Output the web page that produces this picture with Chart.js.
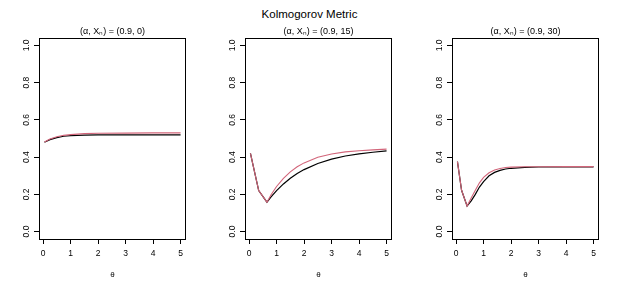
<!DOCTYPE html>
<html>
<head>
<meta charset="utf-8">
<script src="https://cdn.jsdelivr.net/npm/chart.js@4/dist/chart.umd.min.js"></script>
<style>
  body { margin: 0; background: #fff; width: 619px; height: 288px; position: relative; overflow: hidden; font-family: "Liberation Sans", Arial, sans-serif; }
  .main-title { position: absolute; top: 8px; left: 0; width: 619px; text-align: center; font-size: 11.5px; color: #000; }
  canvas { position: absolute; top: 0; }
</style>
</head>
<body>
<div class="main-title">Kolmogorov Metric</div>
<canvas id="panel0" width="206" height="288" style="left:0px"></canvas>
<canvas id="panel1" width="206" height="288" style="left:206px"></canvas>
<canvas id="panel2" width="206" height="288" style="left:413px"></canvas>
<script>
const panelTitles = ['(α, Xₙ) = (0.9, 0)', '(α, Xₙ) = (0.9, 15)', '(α, Xₙ) = (0.9, 30)'];
const xTicks = [0, 1, 2, 3, 4, 5];
const yTicks = [0, 0.2, 0.4, 0.6, 0.8, 1.0];

// X_n = 0
const theta0 = [0.05, 0.25, 0.5, 0.75, 1, 1.5, 2, 3, 4, 5];
const black0 = [0.480, 0.494, 0.505, 0.512, 0.515, 0.518, 0.519, 0.520, 0.520, 0.520];
const red0 = [0.481, 0.497, 0.509, 0.517, 0.521, 0.526, 0.528, 0.529, 0.530, 0.530];

// X_n = 15
const theta15 = [0.05, 0.35, 0.65, 0.8, 1.0, 1.25, 1.5, 1.75, 2, 2.5, 3, 3.5, 4, 4.5, 5];
const black15 = [0.420, 0.220, 0.158, 0.186, 0.220, 0.256, 0.286, 0.312, 0.333, 0.366, 0.389, 0.406, 0.417, 0.426, 0.434];
const red15 = [0.420, 0.220, 0.158, 0.198, 0.242, 0.286, 0.321, 0.348, 0.369, 0.399, 0.417, 0.428, 0.434, 0.439, 0.443];

// X_n = 30
const theta30 = [0.05, 0.2, 0.4, 0.55, 0.7, 0.85, 1.0, 1.2, 1.4, 1.6, 1.8, 2.0, 2.5, 3, 4, 5];
const black30 = [0.376, 0.222, 0.137, 0.165, 0.200, 0.239, 0.268, 0.300, 0.318, 0.329, 0.336, 0.340, 0.345, 0.347, 0.348, 0.348];
const red30 = [0.376, 0.222, 0.137, 0.180, 0.222, 0.262, 0.291, 0.316, 0.331, 0.339, 0.344, 0.346, 0.348, 0.348, 0.349, 0.349];

const family = '"Liberation Sans", Arial, sans-serif';

// R-style box around the plot region
const boxPlugin = {
  id: 'box',
  afterDraw(chart) {
    const { ctx, chartArea: a } = chart;
    ctx.save();
    ctx.strokeStyle = '#000';
    ctx.lineWidth = 1;
    ctx.strokeRect(Math.round(a.left) + 0.5, Math.round(a.top) + 0.5, Math.round(a.width) - 1, Math.round(a.height));
    ctx.restore();
  }
};

function toPoints(xs, ys) {
  return xs.map((x, i) => ({ x, y: ys[i] }));
}

function makePanel(id, title, theta, blackVals, redVals) {
  const ctx = document.getElementById(id);
  return new Chart(ctx, {
    type: 'line',
    data: {
      datasets: [
        { data: toPoints(theta, redVals), borderColor: '#d2657a', borderWidth: 1.1, pointRadius: 0, tension: 0 },
        { data: toPoints(theta, blackVals), borderColor: '#000', borderWidth: 1.2, pointRadius: 0, tension: 0 }
      ]
    },
    options: {
      responsive: false,
      animation: false,
      layout: { padding: { top: 26.2, right: 20, bottom: 0, left: 0 } },
      plugins: {
        legend: { display: false },
        tooltip: { enabled: false },
        title: {
          display: true,
          text: title,
          fullSize: false,
          color: '#000',
          font: { size: 9, family, weight: 'normal' },
          padding: { top: 0, bottom: 1 }
        }
      },
      scales: {
        x: {
          type: 'linear',
          min: -0.148,
          max: 5.198,
          afterBuildTicks: (s) => { s.ticks = xTicks.map(v => ({ value: v })); },
          afterFit: (s) => { s.height = 49; },
          border: { display: false },
          grid: { drawOnChartArea: false, tickLength: 5, color: '#000', tickColor: '#000' },
          ticks: { autoSkip: false, maxRotation: 0, padding: 5, color: '#000', font: { size: 8.5, family }, callback: (v) => String(v) },
          title: { display: true, text: 'θ', color: '#000', font: { size: 8, family }, padding: { top: 0, bottom: 8 } }
        },
        y: {
          min: -0.04,
          max: 1.04,
          afterBuildTicks: (s) => { s.ticks = yTicks.map(v => ({ value: v })); },
          afterFit: (s) => { s.width = 39; },
          border: { display: false },
          grid: { drawOnChartArea: false, tickLength: 5, color: '#000', tickColor: '#000' },
          ticks: { autoSkip: false, minRotation: 90, maxRotation: 90, crossAlign: 'center', padding: 1.5, color: '#000', font: { size: 8.5, family }, callback: (v) => v.toFixed(1) }
        }
      }
    },
    plugins: [boxPlugin]
  });
}

makePanel('panel0', panelTitles[0], theta0, black0, red0);
makePanel('panel1', panelTitles[1], theta15, black15, red15);
makePanel('panel2', panelTitles[2], theta30, black30, red30);
</script>
</body>
</html>
